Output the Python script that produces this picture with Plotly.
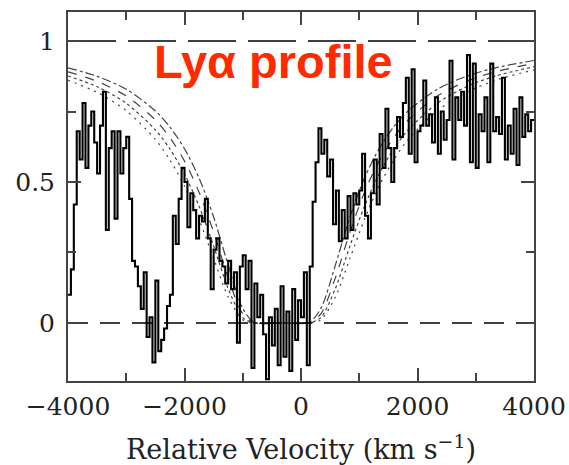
import numpy as np
import plotly.graph_objects as go

# ---- observed spectrum (50 km/s bins starting at -4000) ----
bin_width = 50
velocity = np.arange(-4000, 4000, bin_width)
flux = [
    0.10, 0.19, 0.42, 0.68, 0.58, 0.78, 0.55, 0.70, 0.75, 0.64,
    0.53, 0.70, 0.82, 0.33, 0.62, 0.68, 0.37, 0.68, 0.53, 0.62,
    0.66, 0.44, 0.22, 0.20, 0.13, 0.05, 0.18, -0.05, 0.02, -0.14,
    0.15, -0.10, -0.06, -0.02, 0.06, 0.10, 0.38, 0.28, 0.44, 0.55,
    0.50, 0.34, 0.46, 0.40, 0.30, 0.38, 0.36, 0.44, 0.30, 0.12,
    0.26, 0.30, 0.22, 0.20, 0.14, 0.22, 0.12, 0.18, -0.07, 0.20,
    0.24, 0.12, 0.22, -0.16, 0.14, 0.02, 0.10, -0.04, -0.20, 0.02,
    -0.08, 0.05, -0.15, 0.13, -0.12, 0.04, -0.17, 0.12, -0.06, 0.08,
    0.02, 0.18, -0.15, 0.20, 0.43, 0.57, 0.69, 0.60, 0.65, 0.52,
    0.58, 0.35, 0.47, 0.29, 0.40, 0.30, 0.45, 0.33, 0.46, 0.42,
    0.47, 0.60, 0.38, 0.30, 0.46, 0.58, 0.42, 0.67, 0.55, 0.76,
    0.62, 0.50, 0.62, 0.73, 0.66, 0.78, 0.87, 0.60, 0.90, 0.57,
    0.68, 0.70, 0.86, 0.70, 0.74, 0.64, 0.80, 0.60, 0.75, 0.65,
    0.72, 0.93, 0.58, 0.80, 0.72, 0.82, 0.70, 0.95, 0.57, 0.92,
    0.55, 0.74, 0.68, 0.80, 0.57, 0.92, 0.68, 0.73, 0.67, 0.87,
    0.58, 0.70, 0.60, 0.76, 0.56, 0.80, 0.66, 0.74, 0.68, 0.72,
]

# ---- damped-wing model profiles ----
model_v = [-4000, -3500, -3000, -2500, -2250, -2000, -1750, -1500, -1250,
           -1000, -800, -330, 140, 340, 590, 840, 1090, 1340, 1590, 1840,
           2340, 2840, 3340, 4000]
model_a = [0.905, 0.875, 0.829, 0.752, 0.695, 0.618, 0.514, 0.376, 0.205,
           0.051, 0.002, 0.0, 0.002, 0.051, 0.205, 0.376, 0.514, 0.618,
           0.695, 0.752, 0.829, 0.875, 0.905, 0.931]
model_b = [0.891, 0.857, 0.805, 0.720, 0.657, 0.574, 0.464, 0.322, 0.160,
           0.032, 0.001, 0.0, 0.001, 0.032, 0.160, 0.322, 0.464, 0.574,
           0.657, 0.720, 0.805, 0.857, 0.891, 0.921]
model_c = [0.876, 0.838, 0.779, 0.685, 0.617, 0.528, 0.414, 0.273, 0.122,
           0.019, 0.0, 0.0, 0.0, 0.019, 0.122, 0.273, 0.414, 0.528,
           0.617, 0.685, 0.779, 0.838, 0.876, 0.909]
model_d = [0.861, 0.818, 0.753, 0.651, 0.578, 0.485, 0.367, 0.229, 0.092,
           0.011, 0.0, 0.0, 0.0, 0.011, 0.092, 0.229, 0.367, 0.485,
           0.578, 0.651, 0.753, 0.818, 0.861, 0.898]

x_range = [-4000, 4000]
y_range = [-0.206, 1.103]

fig = go.Figure()

model_styles = [
    (model_a, "dashdot"),
    (model_b, "dash"),
    (model_c, "dot"),
    (model_d, "2px,5px"),
]
for ys, dash in model_styles:
    fig.add_trace(go.Scatter(
        x=model_v, y=ys, mode="lines",
        line=dict(color="#444444", width=1.2, dash=dash, shape="spline", smoothing=0.8),
        hoverinfo="skip", showlegend=False,
    ))

# observed spectrum as histogram steps
xs = list(velocity) + [x_range[1]]
ys = list(flux) + [flux[-1]]
fig.add_trace(go.Scatter(
    x=xs, y=ys, mode="lines",
    line=dict(color="black", width=2.1, shape="hv"),
    showlegend=False,
))

# continuum and zero levels
fig.add_trace(go.Scatter(x=x_range, y=[1, 1], mode="lines",
                         line=dict(color="black", width=1.6, dash="48px,12px"),
                         showlegend=False))
fig.add_trace(go.Scatter(x=x_range, y=[0, 0], mode="lines",
                         line=dict(color="black", width=1.6, dash="20px,12px"),
                         showlegend=False))

tick_font = dict(family="DejaVu Serif", size=25, color="#222222")
title_font = dict(family="DejaVu Serif", size=27, color="#222222")

fig.update_xaxes(
    range=x_range, tickvals=[-4000, -2000, 0, 2000, 4000],
    ticks="inside", ticklen=13, tickwidth=1.5, tickcolor="#444444",
    minor=dict(dtick=1000, ticks="inside", ticklen=8, tickwidth=1.5, tickcolor="#444444"),
    showline=True, linecolor="#444444", linewidth=2, mirror="allticks",
    showgrid=False, zeroline=False, tickfont=tick_font, ticklabelstandoff=2,
    automargin=False,
)
fig.update_yaxes(
    range=y_range, tickvals=[0, 0.5, 1],
    ticks="inside", ticklen=13, tickwidth=1.5, tickcolor="#444444",
    minor=dict(tickvals=[0.25, 0.75], ticks="inside", ticklen=8, tickwidth=1.5, tickcolor="#444444"),
    showline=True, linecolor="#444444", linewidth=2, mirror="allticks",
    showgrid=False, zeroline=False, tickfont=tick_font, ticklabelstandoff=6,
    automargin=False,
)

# x-axis title
fig.add_annotation(
    text="Relative Velocity (km s<sup>−1</sup>)", xref="paper", yref="paper",
    x=0.5, y=-(447 - 381) / 369, xanchor="center", yanchor="middle",
    showarrow=False, font=title_font,
)

fig.add_annotation(
    text="Lyα profile", xref="paper", yref="paper",
    x=(152 - 68) / 466, y=1 - (62 - 12) / 369, xanchor="left", yanchor="middle",
    showarrow=False,
    font=dict(family="Liberation Sans", size=47, color="#ff2a00", weight="bold"),
)

fig.update_layout(
    width=569, height=465,
    margin=dict(l=68, r=35, t=12, b=84),
    paper_bgcolor="white", plot_bgcolor="white",
    showlegend=False,
)

fig.write_html("out.html")
